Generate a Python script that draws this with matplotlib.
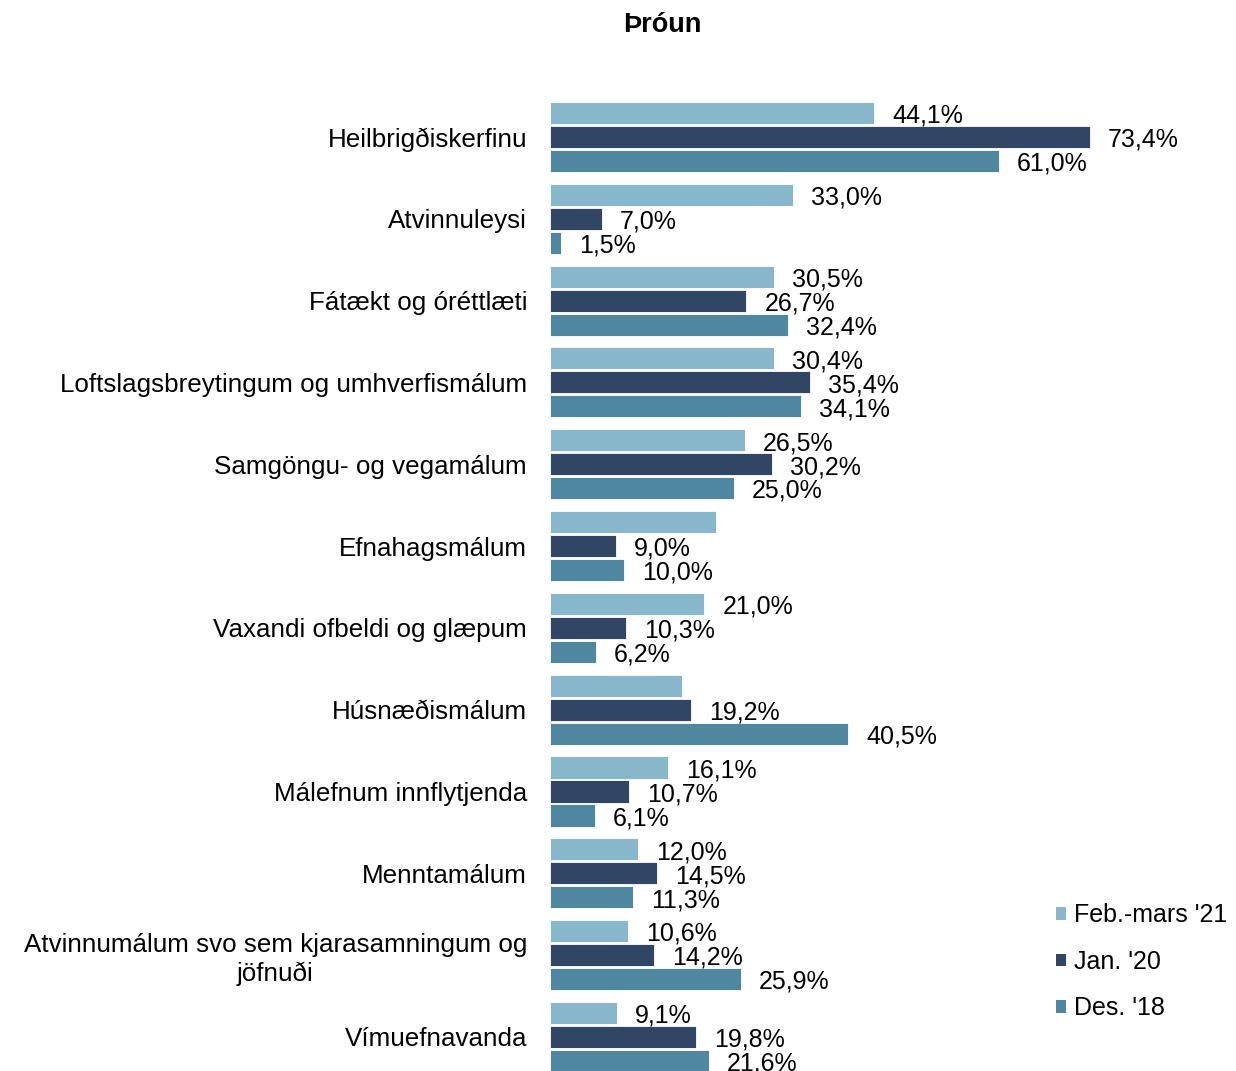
import numpy as np
import matplotlib
matplotlib.use("Agg")
import matplotlib.pyplot as plt
from matplotlib.patches import Patch

plt.rcParams['font.family'] = ['Liberation Sans', 'DejaVu Sans']

categories = [
    "Heilbrigðiskerfinu",
    "Atvinnuleysi",
    "Fátækt og óréttlæti",
    "Loftslagsbreytingum og umhverfismálum",
    "Samgöngu- og vegamálum",
    "Efnahagsmálum",
    "Vaxandi ofbeldi og glæpum",
    "Húsnæðismálum",
    "Málefnum innflytjenda",
    "Menntamálum",
    "Atvinnumálum svo sem kjarasamningum og\njöfnuði",
    "Vímuefnavanda",
]
series_names = ["Feb.-mars '21", "Jan. '20", "Des. '18"]
feb21 = [44.1, 33.0, 30.5, 30.4, 26.5, 22.6, 21.0, 17.9, 16.1, 12.0, 10.6, 9.1]
jan20 = [73.4, 7.0, 26.7, 35.4, 30.2, 9.0, 10.3, 19.2, 10.7, 14.5, 14.2, 19.8]
des18 = [61.0, 1.5, 32.4, 34.1, 25.0, 10.0, 6.2, 40.5, 6.1, 11.3, 25.9, 21.6]
# two bars in the original carry no value label
show_feb21 = [True, True, True, True, True, False, True, False, True, True, True, True]
show_jan20 = [True] * 12
show_des18 = [True] * 12

colors = ["#88b7cc", "#314565", "#4f87a1"]
FS = 18

fig = plt.figure(figsize=(12.36, 10.71), dpi=100)
ax = fig.add_axes([0.445, 0.0, 0.4773, 0.9113])

y = np.arange(len(categories))
step = 0.293
height = 0.27

all_series = [feb21, jan20, des18]
all_show = [show_feb21, show_jan20, show_des18]
for k, (vals, show) in enumerate(zip(all_series, all_show)):
    pos = y + (k - 1) * step
    ax.barh(pos, vals, height=height, color=colors[k], edgecolor="white", linewidth=0.6)
    for p, v, s in zip(pos, vals, show):
        if s:
            ax.annotate(f"{v:.1f}%".replace(".", ","), (v, p), xytext=(13, -2),
                        textcoords="offset points", va="center", ha="left",
                        fontsize=FS, annotation_clip=False)

ax.set_xlim(0, 80.2)
ax.set_ylim(11.416, -0.513)
ax.set_yticks(y)
ax.set_yticklabels(categories, fontsize=18.7, multialignment="center", linespacing=1.2)
ax.tick_params(axis="y", length=0, pad=16.5)
ax.set_xticks([])
for sp in ax.spines.values():
    sp.set_visible(False)

fig.text(0.5356, 0.9767, "Þróun", ha="center", va="center", fontsize=19.5, fontweight="bold")

handles = [Patch(facecolor=c, edgecolor="none") for c in colors]
fig.legend(handles, series_names, loc="center left", bbox_to_anchor=(0.854, 0.1018),
           frameon=False, fontsize=FS, handlelength=0.4, handleheight=0.4,
           handletextpad=0.35, labelspacing=0.9, borderaxespad=0, borderpad=0)

fig.savefig("out.png", dpi=100)
